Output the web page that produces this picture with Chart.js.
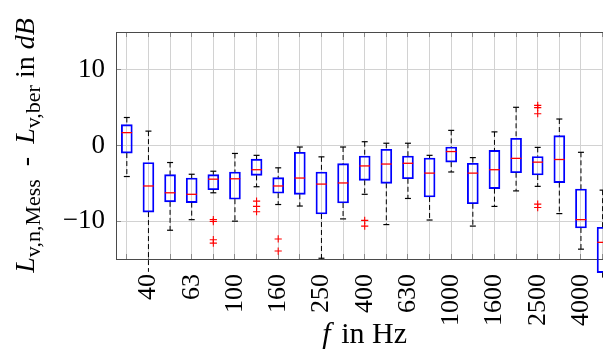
<!DOCTYPE html>
<html>
<head>
<meta charset="utf-8">
<script src="https://cdn.jsdelivr.net/npm/chart.js@4/dist/chart.umd.min.js"></script>
<style>
  html, body { margin: 0; padding: 0; background: #fff; overflow: hidden; }
  #wrap { width: 620px; height: 350px; }
</style>
</head>
<body>
<div id="wrap"><canvas id="grafico" width="620" height="350"></canvas></div>
<script>
// terzbaender in Hz
const categories = ["31.5", "40", "50", "63", "80", "100", "125", "160", "200", "250", "315", "400",
  "500", "630", "800", "1000", "1250", "1600", "2000", "2500", "3150", "4000", "5000"];

const whiskerHigh = [3.7, 1.9, -2.25, -3.8, -3.4, -1.05, -1.3, -2.95, -0.2, -1.5, -0.2, 0.5,
  0.3, 0.3, -1.3, 2.0, -1.6, 1.8, 5.05, -0.25, 3.5, -0.9, -5.9];
const q3 = [2.75, -2.25, -3.85, -4.3, -3.85, -3.5, -1.8, -4.25, -0.9, -3.5, -2.4, -1.4,
  -0.5, -1.4, -1.65, -0.2, -2.35, -0.65, 0.95, -1.45, 1.3, -5.75, -10.8];
const median = [1.7, -5.35, -6.25, -6.45, -4.45, -4.4, -3.2, -5.35, -4.3, -5.1, -4.95, -2.7,
  -2.45, -2.35, -3.65, -0.8, -3.65, -3.2, -1.7, -2.2, -1.85, -9.8, -12.8];
const q1 = [-1.0, -8.8, -7.45, -7.55, -5.85, -7.1, -3.95, -6.3, -6.45, -9.05, -7.6, -4.6,
  -5.0, -4.4, -6.8, -2.2, -7.7, -5.7, -3.6, -3.9, -4.9, -10.9, -16.8];
const whiskerLow = [-4.1, -16.7, -11.2, -9.8, -6.25, -10.0, -5.45, -7.8, -8.0, -14.9, -9.7, -6.45,
  -10.45, -7.0, -9.85, -3.5, -10.65, -8.05, -6.0, -5.4, -9.0, -13.7, -17.8];
const outliers = [[], [], [], [], [-9.8, -10.05, -12.45, -12.9], [], [-7.35, -8.05, -8.75],
  [-12.35, -13.95], [], [], [], [-9.9, -10.65], [], [], [], [], [], [], [],
  [5.3, 5.0, 4.2, -7.75, -8.2], [], [], []];

const yTicks = [-10, 0, 10];

const serif = "'Liberation Serif', 'Times New Roman', serif";

const yTitleParts = [
  { text: "L", style: "italic", size: 28 },
  { text: "v,n,Mess", size: 22, shift: 6, gap: 13 },
  { text: "-", size: 28, gap: 13 },
  { text: "L", style: "italic", size: 28 },
  { text: "v,ber", size: 22, shift: 6 },
  { text: " in ", size: 28 },
  { text: "dB", style: "italic", size: 28 },
];
const xTitleParts = [
  { text: "f", style: "italic", size: 30, gap: 3 },
  { text: " in Hz", size: 30 },
];

function drawParts(ctx, parts) {
  const fontOf = (p) => `${p.style || "normal"} ${p.size}px ${serif}`;
  let total = 0;
  parts.forEach((p) => {
    ctx.font = fontOf(p);
    p.w = ctx.measureText(p.text).width + (p.gap || 0);
    total += p.w;
  });
  let x = -total / 2;
  parts.forEach((p) => {
    ctx.font = fontOf(p);
    ctx.fillText(p.text, x, p.shift || 0);
    x += p.w;
  });
}

const axisTitles = {
  id: "axisTitles",
  afterDraw(chart) {
    const { ctx, chartArea } = chart;
    ctx.save();
    ctx.fillStyle = "#000";
    ctx.textBaseline = "alphabetic";
    ctx.translate(33.5, (chartArea.top + chartArea.bottom) / 2);
    ctx.rotate(-Math.PI / 2);
    drawParts(ctx, yTitleParts);
    ctx.restore();

    ctx.save();
    ctx.fillStyle = "#000";
    ctx.textBaseline = "alphabetic";
    ctx.translate((chartArea.left + chartArea.right) / 2, chartArea.bottom + 84);
    drawParts(ctx, xTitleParts);
    ctx.restore();
  },
};

const noPadding = (s) => {
  s.paddingLeft = 0;
  s.paddingRight = 0;
  s.paddingTop = 0;
  s.paddingBottom = 0;
};

// whisker als gestrichelte segmente, getrennt durch null
let whiskerPoints = [];
categories.forEach((c, i) => {
  whiskerPoints.push({ x: c, y: whiskerHigh[i] }, { x: c, y: q3[i] }, { x: c, y: null });
  whiskerPoints.push({ x: c, y: q1[i] }, { x: c, y: whiskerLow[i] }, { x: c, y: null });
});

let outlierPoints = [];
outliers.forEach((list, i) => {
  list.forEach((v) => outlierPoints.push({ x: categories[i], y: v }));
});

const gridColor = "#d2d2d2";
const tickColor = "#8a8a8a";
const frameColor = "#4a4a4a";

new Chart(document.getElementById("grafico"), {
  type: "bar",
  data: {
    labels: categories,
    datasets: [
      {
        type: "line",
        label: "Ausreisser",
        data: outlierPoints,
        showLine: false,
        pointStyle: "cross",
        pointRadius: 3.6,
        pointBorderColor: "#ff0000",
        pointBorderWidth: 1.1,
        clip: false,
      },
      {
        type: "line",
        label: "Median",
        data: median,
        showLine: false,
        pointStyle: "line",
        pointRadius: 5.3,
        pointBorderColor: "#ff0000",
        pointBorderWidth: 1.3,
        clip: false,
      },
      {
        type: "line",
        label: "Max",
        data: whiskerHigh,
        showLine: false,
        pointStyle: "line",
        pointRadius: 3,
        pointBorderColor: "#000",
        pointBorderWidth: 1.2,
        clip: false,
      },
      {
        type: "line",
        label: "Min",
        data: whiskerLow,
        showLine: false,
        pointStyle: "line",
        pointRadius: 3,
        pointBorderColor: "#000",
        pointBorderWidth: 1.2,
        clip: false,
      },
      {
        type: "line",
        label: "Whisker",
        data: whiskerPoints,
        borderColor: "#000",
        borderWidth: 1,
        borderDash: [5, 3],
        pointRadius: 0,
        spanGaps: false,
        clip: false,
      },
      {
        type: "bar",
        label: "Box",
        data: categories.map((c, i) => [q1[i], q3[i]]),
        backgroundColor: "rgba(0,0,0,0)",
        borderColor: "#0000ff",
        borderWidth: 1.2,
        borderSkipped: false,
        barThickness: 11,
        clip: false,
      },
    ],
  },
  options: {
    responsive: false,
    animation: false,
    events: [],
    layout: { padding: { top: 32, right: 6, left: 0, bottom: 0 } },
    plugins: { legend: { display: false }, tooltip: { enabled: false } },
    scales: {
      x: {
        type: "category",
        offset: true,
        grid: { offset: false, color: gridColor, tickLength: -5, tickColor: tickColor },
        border: { color: frameColor, width: 1 },
        ticks: {
          autoSkip: false,
          minRotation: 90,
          maxRotation: 90,
          padding: 20,
          color: "#000",
          font: { family: serif, size: 26 },
          callback: (v, i) => (i % 2 === 1 ? categories[i] : ""),
        },
        afterFit: (s) => {
          s.height = 91;
          noPadding(s);
        },
      },
      x2: {
        type: "category",
        position: "top",
        offset: true,
        grid: { offset: false, drawOnChartArea: false, tickLength: -5, tickColor: tickColor },
        border: { color: frameColor, width: 1 },
        ticks: { display: false },
        afterFit: (s) => {
          s.height = 0;
          noPadding(s);
        },
      },
      y: {
        min: -15,
        max: 15,
        grid: { color: gridColor, tickLength: -5, tickColor: tickColor },
        border: { color: frameColor, width: 1 },
        afterBuildTicks: (s) => {
          s.ticks = yTicks.map((v) => ({ value: v }));
        },
        ticks: {
          padding: 16,
          color: "#000",
          font: { family: serif, size: 27 },
          callback: (v) => (v < 0 ? "\u2212" + Math.abs(v) : String(v)),
        },
        afterFit: (s) => {
          s.width = 116;
          noPadding(s);
        },
      },
    },
  },
  plugins: [axisTitles],
});
</script>
</body>
</html>
